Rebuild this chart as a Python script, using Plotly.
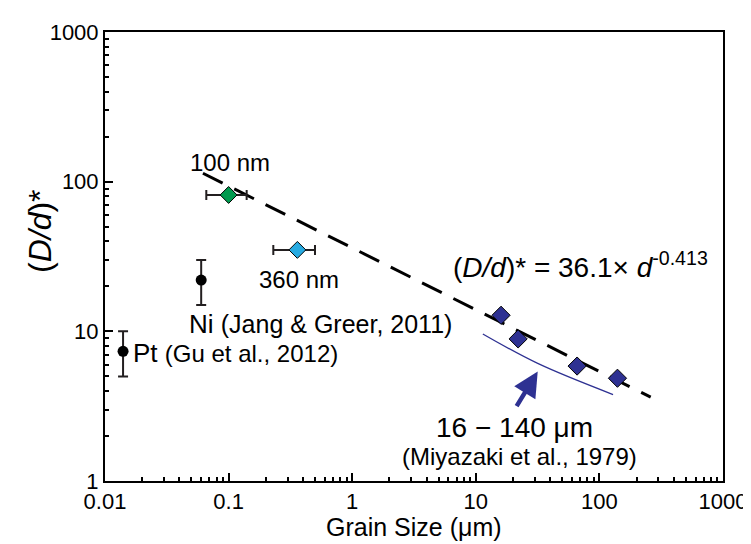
import numpy as np
import plotly.graph_objects as go

FONT = "Liberation Sans, Arial, sans-serif"

# ---- data ----
pt_x = [0.014]; pt_y = [7.35]; pt_lo = [5.0]; pt_hi = [10.0]
ni_x = [0.06]; ni_y = [22.0]; ni_lo = [15.0]; ni_hi = [30.0]
nm100_x = [0.10]; nm100_y = [81.5]; nm100_xlo = [0.066]; nm100_xhi = [0.14]
nm360_x = [0.36]; nm360_y = [35.0]; nm360_xlo = [0.23]; nm360_xhi = [0.50]
miy_x = [16, 22, 66, 140]
miy_y = [12.8, 8.9, 5.86, 4.86]
miy_curve_x = [11.4, 31.7, 129]
miy_curve_y = [9.6, 6.1, 3.78]
fit_a = 36.1
fit_b = -0.413
fit_range = [0.062, 260]
x_ticks = [0.01, 0.1, 1, 10, 100, 1000]
x_tick_text = ["0.01", "0.1", "1", "10", "100", "1000"]
y_ticks = [1, 10, 100, 1000]
y_tick_text = ["1", "10", "100", "1000"]

fig = go.Figure()

# fit line
fx = np.array(fit_range)
fig.add_trace(go.Scatter(x=fx, y=fit_a * fx ** fit_b, mode="lines",
                         line=dict(color="black", width=3, dash="22px,13px"),
                         hoverinfo="skip", showlegend=False))
# Miyazaki fit curve
fig.add_trace(go.Scatter(x=miy_curve_x, y=miy_curve_y, mode="lines",
                         line=dict(color="#2e3192", width=1.3, shape="spline"),
                         showlegend=False))

def err(lo, hi, v):
    return dict(type="data", symmetric=False,
                array=[h - c for h, c in zip(hi, v)],
                arrayminus=[c - l for l, c in zip(lo, v)],
                color="#231f20", thickness=2, width=5)

fig.add_trace(go.Scatter(x=pt_x, y=pt_y, mode="markers",
                         marker=dict(color="black", size=11, symbol="circle"),
                         error_y=err(pt_lo, pt_hi, pt_y), showlegend=False))
fig.add_trace(go.Scatter(x=ni_x, y=ni_y, mode="markers",
                         marker=dict(color="black", size=11, symbol="circle"),
                         error_y=err(ni_lo, ni_hi, ni_y), showlegend=False))
fig.add_trace(go.Scatter(x=nm100_x, y=nm100_y, mode="markers",
                         marker=dict(color="#009a4e", size=13, symbol="diamond",
                                     line=dict(color="black", width=1)),
                         error_x=err(nm100_xlo, nm100_xhi, nm100_x), showlegend=False))
fig.add_trace(go.Scatter(x=nm360_x, y=nm360_y, mode="markers",
                         marker=dict(color="#27aae1", size=13, symbol="diamond",
                                     line=dict(color="black", width=1)),
                         error_x=err(nm360_xlo, nm360_xhi, nm360_x), showlegend=False))
fig.add_trace(go.Scatter(x=miy_x, y=miy_y, mode="markers",
                         marker=dict(color="#2e3192", size=14, symbol="diamond",
                                     line=dict(color="black", width=1)),
                         showlegend=False))

ann = [
    dict(x=-0.989, y=2.131, text="100 nm", xanchor="center", size=24),
    dict(x=-0.432, y=1.344, text="360 nm", xanchor="center", size=24),
    dict(x=-1.339, y=1.048, text="Ni <span style='font-size:25px'>(Jang &amp; Greer, 2011)</span>", xanchor="left", size=26),
    dict(x=-1.793, y=0.858, text="Pt <span style='font-size:24px'>(Gu et al., 2012)</span>", xanchor="left", size=26),
    dict(x=0.800, y=1.442, text="(<i>D/d</i>)* = 36.1× <i>d</i><sup>-0.413</sup>", xanchor="left", size=28),
    dict(x=1.312, y=0.359, text="16 − 140 μm", xanchor="center", size=28),
    dict(x=1.352, y=0.162, text="(Miyazaki et al., 1979)", xanchor="center", size=24),
]
for a in ann:
    fig.add_annotation(x=a["x"], y=a["y"], text=a["text"], xanchor=a["xanchor"],
                       yanchor="middle", showarrow=False,
                       font=dict(family=FONT, size=a["size"], color="black"))

# arrow
fig.add_annotation(x=1.501, y=0.731, ax=-22, ay=36, text="", showarrow=True,
                   arrowhead=2, arrowsize=1.1, arrowwidth=4.5, arrowcolor="#2e3192")

# axis titles
fig.add_annotation(xref="paper", yref="paper", x=0.5, y=-0.103, text="Grain Size (μm)",
                   showarrow=False, xanchor="center", yanchor="middle",
                   font=dict(family=FONT, size=25, color="black"))
fig.add_annotation(xref="paper", yref="paper", x=-0.105, y=0.557, text="(<i>D/d</i>)*",
                   showarrow=False, xanchor="center", yanchor="middle", textangle=-90,
                   font=dict(family=FONT, size=32, color="black"))

axis_common = dict(type="log", showline=True, linecolor="black", linewidth=2,
                   mirror=True, ticks="inside", ticklen=8, tickwidth=2,
                   tickcolor="black", showgrid=False, zeroline=False,
                   tickfont=dict(family=FONT, size=22, color="black"),
                   minor=dict(ticks="inside", ticklen=4, tickwidth=2,
                              tickcolor="black", dtick="D1", showgrid=False))

fig.update_xaxes(**axis_common, range=[-2, 3], tickvals=x_ticks, ticktext=x_tick_text)
fig.update_yaxes(**axis_common, range=[0, 3], tickvals=y_ticks, ticktext=y_tick_text)

fig.update_layout(width=751, height=544, plot_bgcolor="white", paper_bgcolor="white",
                  margin=dict(l=97, r=26, t=16, b=71), showlegend=False,
                  font=dict(family=FONT))

fig.write_html("out.html")
